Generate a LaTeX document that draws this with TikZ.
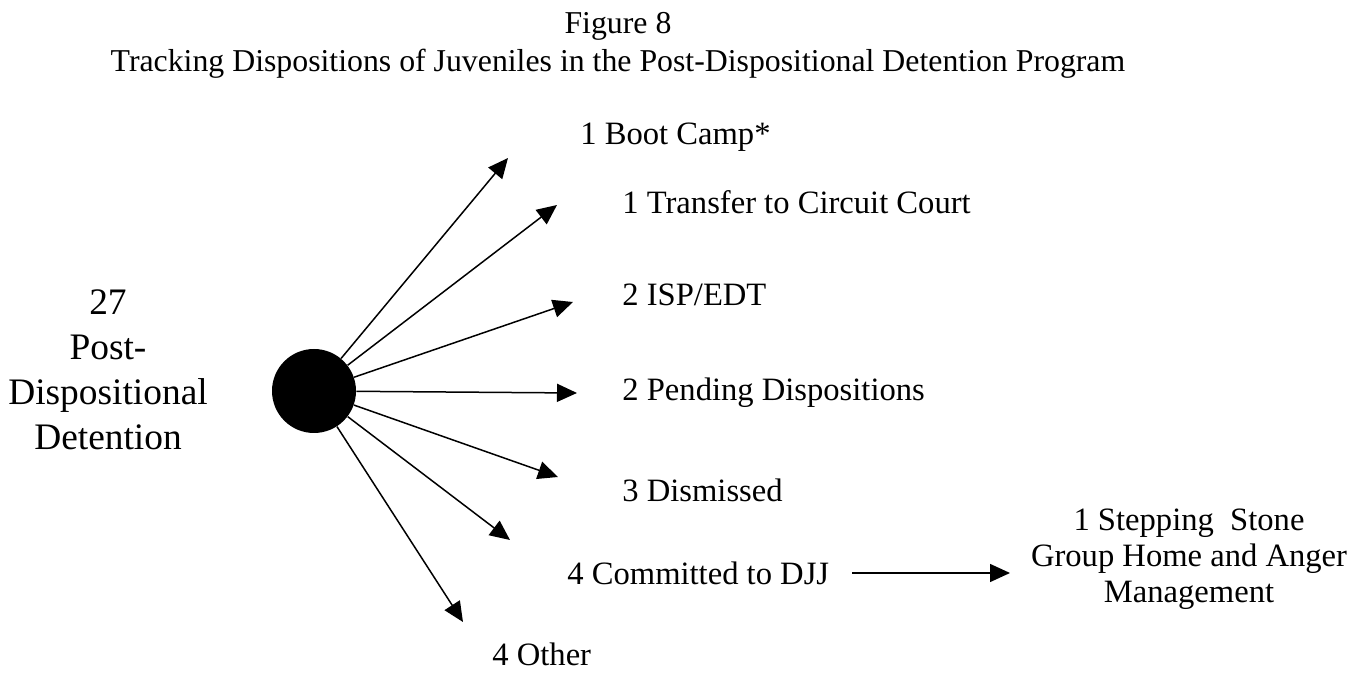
\documentclass[tikz,border=0pt]{standalone}
\usepackage{fontspec}
\setmainfont{Liberation Serif}
\usetikzlibrary{arrows.meta}
\tikzset{
  lbl/.style={inner sep=0pt, anchor=west, font=\fontsize{16.3}{17.5}\selectfont},
  arr/.style={line width=0.75pt, -{Triangle[length=10pt,width=9pt]}},
}
\begin{document}
\begin{tikzpicture}[x=0.5pt,y=-0.5pt]
\useasboundingbox (0,0) rectangle (1362,673);
% title
\node[inner sep=0pt, font=\fontsize{15.9}{19}\selectfont] (t1) at (618,26) {Figure 8};
\node[inner sep=0pt, font=\fontsize{15.9}{19}\selectfont] (t2) at (618,64) {Tracking Dispositions of Juveniles in the Post-Dispositional Detention Program};
% left label
\node[inner sep=0pt, align=center, font=\fontsize{18.7}{22.5}\selectfont] (src) at (108,370) {27\\Post-\\Dispositional\\Detention};
% hub
\node[circle, fill=black, minimum size=42pt, inner sep=0pt] (hub) at (314,391) {};
% arrow tips
\coordinate (e1) at (508,158);
\coordinate (e2) at (557,205);
\coordinate (e3) at (573,302);
\coordinate (e4) at (577,393);
\coordinate (e5) at (558,477);
\coordinate (e6) at (510,540);
\coordinate (e7) at (463,622);
\draw[arr] (hub) -- (e1);
\draw[arr] (hub) -- (e2);
\draw[arr] (hub) -- (e3);
\draw[arr] (hub) -- (e4);
\draw[arr] (hub) -- (e5);
\draw[arr] (hub) -- (e6);
\draw[arr] (hub) -- (e7);
% labels
\node[lbl] (l1) at (580,137) {1 Boot Camp*};
\node[lbl] (l2) at (622,202) {1 Transfer to Circuit Court};
\node[lbl] (l3) at (622,295) {2 ISP/EDT};
\node[lbl] (l4) at (622,393) {2 Pending Dispositions};
\node[lbl] (l5) at (622,490) {3 Dismissed};
\node[lbl] (l6) at (567,573) {4 Committed to DJJ};
\node[lbl] (l7) at (492,654) {4 Other};
\node[inner sep=0pt, align=center, font=\fontsize{16.3}{18}\selectfont] (ss) at (1189,559) {1 Stepping\ \ Stone\\Group Home and Anger\\Management};
\coordinate (a6s) at (852,573);
\coordinate (a6e) at (1010,573);
\draw[arr] (a6s) -- (a6e);
\end{tikzpicture}
\end{document}
